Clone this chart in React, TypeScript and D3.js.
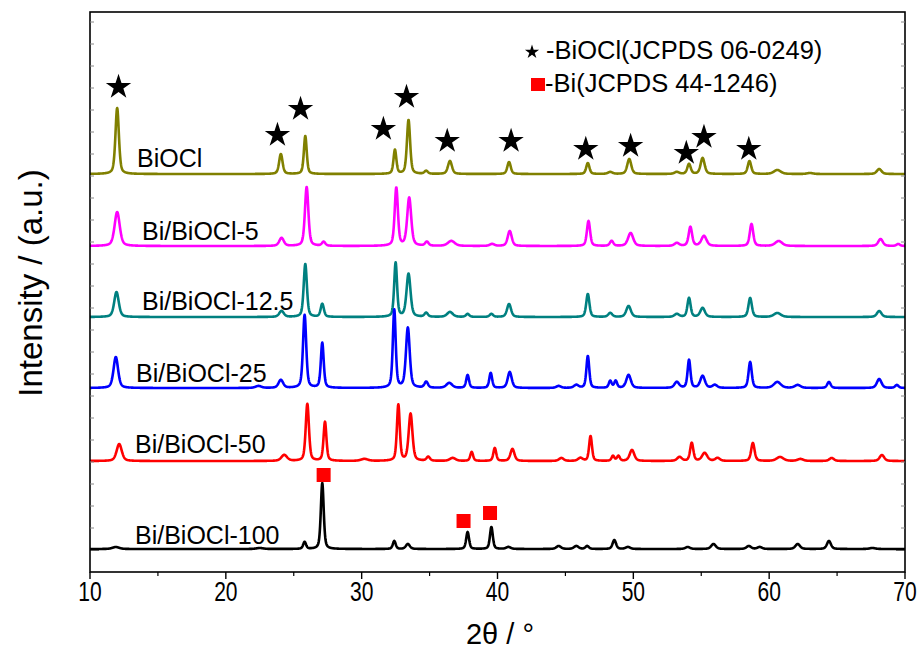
import * as d3 from "d3";
import React from "react";

// XRD patterns, peaks: [2theta, height, fwhm]
const sampleNames = ["BiOCl", "Bi/BiOCl-5", "Bi/BiOCl-12.5", "Bi/BiOCl-25", "Bi/BiOCl-50", "Bi/BiOCl-100"];
const sampleColors = ["#808000", "#ff00ff", "#008080", "#0000ff", "#ff0000", "#000000"];
const sampleOffsets = [398, 326, 255, 184, 111, 23];

const peaksBiOCl = [
  [12.0, 66, 0.3], [24.05, 20, 0.3], [25.85, 38, 0.25], [32.45, 24, 0.25], [33.45, 54, 0.28],
  [34.75, 3, 0.3], [36.5, 13, 0.35], [40.85, 12, 0.3], [46.65, 11, 0.28], [48.3, 2, 0.4],
  [49.7, 15, 0.35], [53.2, 2, 0.4], [54.1, 10, 0.3], [55.1, 16, 0.35], [58.55, 13, 0.3],
  [60.6, 4, 0.6], [63.0, 1, 0.5], [68.1, 5, 0.4],
];
const peaks5 = [
  [12.0, 34, 0.45], [24.1, 8, 0.4], [25.95, 59, 0.3], [27.2, 4, 0.3], [32.55, 58, 0.28],
  [33.5, 48, 0.35], [34.8, 4, 0.3], [36.6, 5, 0.6], [39.6, 2, 0.4], [40.9, 15, 0.35],
  [46.7, 25, 0.28], [48.4, 5, 0.3], [49.8, 13, 0.45], [53.2, 3, 0.4], [54.2, 19, 0.3],
  [55.2, 10, 0.45], [58.7, 22, 0.3], [60.7, 5, 0.6], [68.2, 7, 0.4], [69.5, 2, 0.3],
];
const peaks12 = [
  [11.95, 25, 0.4], [24.1, 6, 0.4], [25.85, 53, 0.28], [27.1, 13, 0.28], [32.5, 54, 0.25],
  [33.45, 43, 0.35], [34.75, 4, 0.3], [36.5, 5, 0.5], [37.8, 3, 0.3], [39.55, 3, 0.3],
  [40.85, 13, 0.35], [46.65, 23, 0.28], [48.3, 4, 0.35], [49.65, 11, 0.4], [53.2, 3, 0.4],
  [54.1, 19, 0.28], [55.1, 9, 0.4], [58.6, 19, 0.3], [60.6, 4, 0.6], [68.1, 6, 0.4],
];
const peaks25 = [
  [11.9, 31, 0.4], [22.4, 2, 0.5], [24.05, 8, 0.4], [25.8, 73, 0.28], [27.1, 45, 0.25],
  [32.4, 78, 0.25], [33.4, 60, 0.33], [34.75, 6, 0.3], [36.45, 5, 0.5], [37.8, 13, 0.25],
  [39.5, 15, 0.25], [40.9, 16, 0.35], [44.5, 2, 0.4], [45.8, 3, 0.4], [46.65, 32, 0.25],
  [48.3, 7, 0.25], [48.7, 7, 0.25], [49.65, 13, 0.4], [53.2, 6, 0.4], [54.1, 28, 0.25],
  [55.1, 12, 0.4], [56.0, 3, 0.4], [58.6, 26, 0.28], [60.6, 6, 0.6], [62.1, 3, 0.5],
  [64.4, 6, 0.3], [68.1, 9, 0.4], [69.4, 3, 0.3],
];
const peaks50 = [
  [12.15, 17, 0.45], [24.3, 6, 0.5], [26.0, 57, 0.28], [27.3, 39, 0.25], [30.2, 2, 0.6],
  [32.7, 56, 0.25], [33.6, 47, 0.33], [34.9, 4, 0.3], [36.7, 3, 0.5], [38.1, 9, 0.25],
  [39.8, 13, 0.25], [41.1, 12, 0.35], [44.7, 3, 0.4], [46.1, 3, 0.4], [46.85, 25, 0.25],
  [48.5, 5, 0.25], [48.9, 5, 0.25], [49.9, 11, 0.4], [53.4, 4, 0.4], [54.3, 18, 0.28],
  [55.25, 8, 0.45], [56.2, 3, 0.4], [58.8, 18, 0.3], [60.8, 4, 0.6], [62.3, 2, 0.5],
  [64.6, 3, 0.4], [68.3, 6, 0.4],
];
const peaks100 = [
  [11.9, 2, 0.6], [22.5, 1, 0.6], [25.8, 7, 0.25], [27.1, 66, 0.25], [32.4, 8, 0.25],
  [33.4, 5, 0.35], [37.8, 17, 0.25], [39.55, 22, 0.25], [40.8, 2, 0.4], [44.5, 3, 0.4],
  [45.8, 3, 0.4], [46.6, 3, 0.3], [48.6, 9, 0.3], [49.6, 2, 0.4], [54.0, 2, 0.4],
  [55.9, 5, 0.4], [58.5, 3, 0.4], [59.3, 2, 0.4], [62.1, 5, 0.4], [64.4, 8, 0.35],
  [67.6, 1, 0.5],
];
const samplePeaks = [peaksBiOCl, peaks5, peaks12, peaks25, peaks50, peaks100];

// phase markers
const starTheta = [12.1, 23.8, 25.5, 31.6, 33.3, 36.3, 41.0, 46.5, 49.8, 53.9, 55.2, 58.5];
const starLevel = [485, 437, 463, 443, 475, 431, 431, 423, 426, 419, 435, 423];
const squareTheta = [27.2, 37.5, 39.45];
const squareLevel = [97, 51, 59];

const xTicks = [10, 20, 30, 40, 50, 60, 70];
const xMinorTicks = [15, 25, 35, 45, 55, 65];

const W = 920;
const H = 655;
const left = 90, right = 905, top = 12, bottom = 572;
const font = "'Liberation Sans', Arial, sans-serif";

const x = d3.scaleLinear().domain([10, 70]).range([left, right]);
const y = d3.scaleLinear().domain([0, 560]).range([bottom, top]);

const profile = (t, c, w) => {
  const d = (t - c) / w;
  const g = Math.exp(-4 * Math.LN2 * d * d);
  const l = 1 / (1 + 4 * d * d);
  return 0.45 * l + 0.55 * g;
};

const grid = d3.range(10, 70.001, 0.02);

const line = d3.line().x((d) => x(d[0])).y((d) => y(d[1]));

const labelPos = [
  [137, 167], [142, 240], [142, 310], [136, 382], [135, 453], [135, 544],
];

const starPath = d3.symbol(d3.symbolStar, 200)();
const smallStar = d3.symbol(d3.symbolStar, 62)();

export default function App() {
  const curves = samplePeaks.map((pk, i) =>
    grid.map((t) => {
      let v = sampleOffsets[i];
      pk.forEach(([c, h, w]) => {
        if (Math.abs(t - c) < 8) v += h * profile(t, c, w);
      });
      return [t, v];
    })
  );

  const yMinor = d3.range(550, top + 5, -22);

  return (
    <svg width={W} height={H} style={{ position: "absolute", left: 0, top: 0, background: "#fff" }}>
      {curves.map((c, i) => (
        <path key={i} d={line(c)} fill="none" stroke={sampleColors[i]} strokeWidth={2.6} strokeLinejoin="round" />
      ))}

      {starTheta.map((t, i) => (
        <path key={"s" + i} d={starPath} transform={`translate(${x(t)},${y(starLevel[i])})`} fill="#000" />
      ))}
      {squareTheta.map((t, i) => (
        <rect key={"q" + i} x={x(t) - 7} y={y(squareLevel[i]) - 7} width={14} height={14} fill="#ff0000" />
      ))}

      {sampleNames.map((n, i) => (
        <text key={"l" + i} x={labelPos[i][0]} y={labelPos[i][1]} fontFamily={font} fontSize={25} fill="#000">
          {n}
        </text>
      ))}

      {/* legend */}
      <path d={smallStar} transform="translate(532,52)" fill="#000" />
      <text x={546} y={59} fontFamily={font} fontSize={25.5}>-BiOCl(JCPDS 06-0249)</text>
      <rect x={531} y={78} width={14} height={13} fill="#ff0000" />
      <text x={545} y={92} fontFamily={font} fontSize={25.5}>-Bi(JCPDS 44-1246)</text>

      {/* frame */}
      <rect x={left} y={top} width={right - left} height={bottom - top} fill="none" stroke="#000" strokeWidth={1.6} />

      {/* y ticks, inner */}
      {yMinor.map((v, i) => (
        <g key={"y" + i} stroke="#888" strokeWidth={1}>
          <line x1={left} x2={left + (i === 0 ? 9 : 4)} y1={v} y2={v} stroke={i === 0 ? "#000" : "#888"} />
          <line x1={right} x2={right - (i === 0 ? 9 : 4)} y1={v} y2={v} stroke={i === 0 ? "#000" : "#888"} />
        </g>
      ))}

      {/* x axis ticks */}
      {xTicks.map((t) => (
        <g key={"x" + t}>
          <line x1={x(t)} x2={x(t)} y1={bottom} y2={bottom + 7} stroke="#000" strokeWidth={1.4} />
          <text
            transform={`translate(${x(t)},601) scale(0.78,1)`}
            textAnchor="middle"
            fontFamily={font}
            fontSize={27}
          >
            {t}
          </text>
        </g>
      ))}
      {xMinorTicks.map((t) => (
        <line key={"m" + t} x1={x(t)} x2={x(t)} y1={bottom} y2={bottom + 4} stroke="#000" strokeWidth={1.2} />
      ))}

      <text x={500} y={644} textAnchor="middle" fontFamily={font} fontSize={29}>
        2θ / °
      </text>
      <text
        transform="translate(42,283) rotate(-90)"
        textAnchor="middle"
        fontFamily={font}
        fontSize={33}
      >
        Intensity / (a.u.)
      </text>
    </svg>
  );
}
